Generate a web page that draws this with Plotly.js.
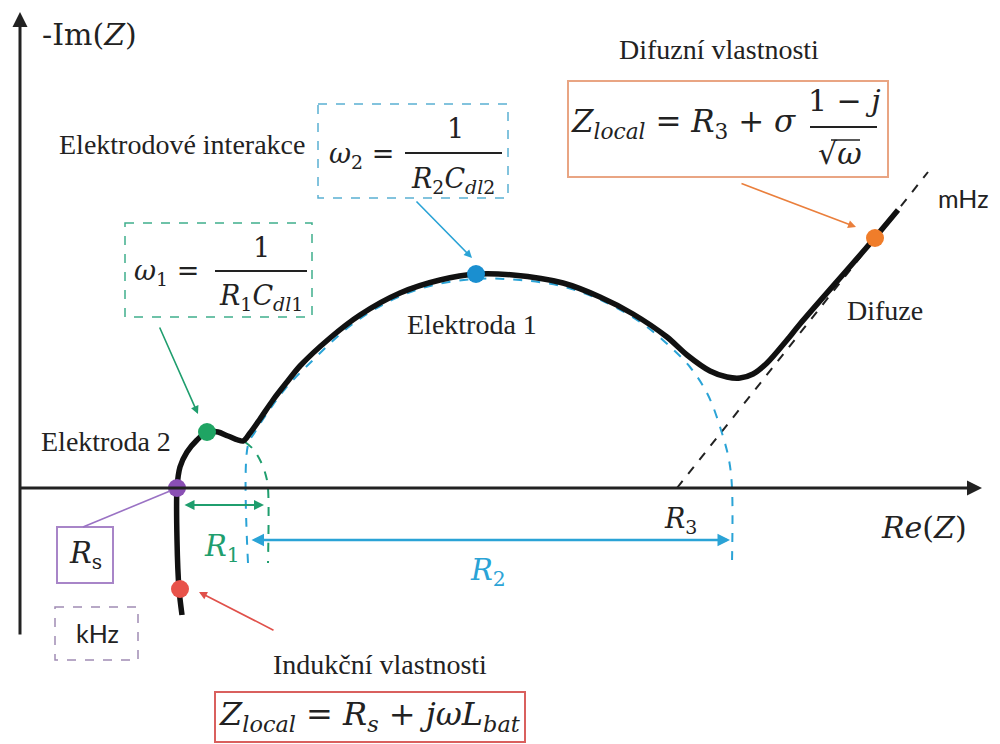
<!DOCTYPE html>
<html>
<head>
<meta charset="utf-8">
<script src="https://cdn.plot.ly/plotly-3.0.1.min.js"></script>
<style>
  html, body { margin: 0; padding: 0; background: #ffffff; }
  #chart { width: 1000px; height: 744px; }
</style>
</head>
<body>
<div id="chart"></div>
<script>
// Schematic Nyquist plot of a battery cell: Re(Z) against -Im(Z), arbitrary units.

// Impedance curve (inductive tail -> two arcs -> diffusion line)
const reZ    = [162, 159, 157, 157, 160, 167, 177, 187, 198, 208, 223, 230, 240, 253, 267, 280, 310, 340, 380, 420, 457, 493, 543, 580, 613, 647, 667, 690, 707, 720, 733, 747, 767, 780, 847, 878];
const negImZ = [-127, -101, -52, 0, 21, 36, 48, 56, 56, 52, 47, 55, 69, 88, 106, 122, 150, 173, 195, 208, 214, 213, 205, 191, 174, 151, 133, 117, 111, 110, 114, 125, 148, 164, 241, 278];

// Resistances read on the real axis
const Rs = 157;
const R1end = 248;
const R2start = 228;
const R2end = 712;
const R3 = 657;

// Fitted arc of electrode 1 (R2) and its right boundary
const r2ArcRe = [228, 228, 235, 248, 265, 290, 330, 370, 410, 456, 500, 545, 585, 620, 645, 670, 688, 701, 709, 712, 712];
const r2ArcIm = [-75, 43, 56, 76, 99, 125, 162, 187, 202, 209, 208, 201, 186, 166, 146, 121, 93, 58, 28, 0, -75];

// Small arc of electrode 2 (R1) and its right boundary
const r1ArcRe = [225, 233, 241, 246, 248, 248];
const r1ArcIm = [46, 39, 26, 12, 0, -75];

// Warburg asymptote starting at R3
const warburgRe = [R3, 908];
const warburgIm = [0, 316];

// Characteristic frequency points
const markRe = [160, Rs, 187, 456, 855];
const markIm = [-101, 0, 56, 214, 250];
const markColors = ['#e8524a', '#8a4fb4', '#1fa463', '#1a8fd0', '#f07d2a'];

const W = 1000, H = 744;
const INK = '#222222';
const GREEN = '#1f9e6e';
const BLUE = '#2aa3d6';
const ORANGE = '#ea7f3c';
const RED = '#e0504a';
const SERIF = 'Liberation Serif';
const MATH = 'DejaVu Serif';

// paper position from page pixels
function page(px, py) {
  return { xref: 'paper', yref: 'paper', x: px / W, y: 1 - py / H };
}

function label(text, px, py, size, color, family, extra) {
  return Object.assign(page(px, py), {
    text: text, showarrow: false, xanchor: 'center', yanchor: 'middle',
    font: { size: size, color: color || INK, family: family || SERIF }
  }, extra || {});
}

function pointer(hx, hy, tx, ty, color, width) {
  return Object.assign(page(hx, hy), {
    text: '', showarrow: true, ax: tx - hx, ay: ty - hy,
    arrowhead: 2, arrowsize: 1, arrowwidth: width || 1.6, arrowcolor: color, standoff: 0
  });
}

function rect(x0, y0, x1, y1, color, dash, width) {
  return {
    type: 'rect', xref: 'paper', yref: 'paper',
    x0: x0 / W, x1: x1 / W, y0: 1 - y0 / H, y1: 1 - y1 / H,
    line: { color: color, width: width || 1.6, dash: dash || 'solid' },
    fillcolor: 'rgba(255,255,255,0)', layer: 'below'
  };
}

function bar(x0, x1, y, color, width) {
  return {
    type: 'line', xref: 'paper', yref: 'paper',
    x0: x0 / W, x1: x1 / W, y0: 1 - y / H, y1: 1 - y / H,
    line: { color: color || INK, width: width || 2 }
  };
}

function segment(x0, y0, x1, y1, color, width) {
  return {
    type: 'line', xref: 'paper', yref: 'paper',
    x0: x0 / W, x1: x1 / W, y0: 1 - y0 / H, y1: 1 - y1 / H,
    line: { color: color, width: width || 1.6 }
  };
}

const traces = [
  { x: warburgRe, y: warburgIm, mode: 'lines', line: { color: INK, width: 2, dash: 'dash' }, hoverinfo: 'skip' },
  { x: r2ArcRe, y: r2ArcIm, mode: 'lines', line: { color: BLUE, width: 2, dash: 'dash', shape: 'spline' }, hoverinfo: 'skip' },
  { x: r1ArcRe, y: r1ArcIm, mode: 'lines', line: { color: GREEN, width: 2, dash: 'dash', shape: 'spline' }, hoverinfo: 'skip' },
  { x: reZ, y: negImZ, mode: 'lines', line: { color: '#111111', width: 5.5, shape: 'spline', smoothing: 0.8 }, hoverinfo: 'skip' },
  { x: markRe, y: markIm, mode: 'markers', marker: { size: 18, color: markColors }, hoverinfo: 'skip' }
];

const annotations = [
  // axes with arrowheads
  pointer(982, 488, 18, 488, INK, 3),
  pointer(20, 12, 20, 636, INK, 3),
  label('-Im(<i>Z</i>)', 89, 35, 30, INK, MATH),
  label('<i>Re</i>(<i>Z</i>)', 924, 527, 30, INK, MATH),

  // region captions
  label('Elektrodové interakce', 182, 144, 28, INK, SERIF),
  label('Elektroda 2', 106, 441, 28, INK, SERIF),
  label('Elektroda 1', 472, 325, 28, INK, SERIF),
  label('Difuzní vlastnosti', 719, 50, 28, INK, SERIF),
  label('Difuze', 885, 310, 28, INK, SERIF),
  label('Indukční vlastnosti', 380, 664, 28, INK, SERIF),
  label('mHz', 963, 198, 25, INK, 'Lato'),
  label('kHz', 97, 633, 25, INK, 'Lato'),

  // resistance labels
  label('<i>R</i><sub>s</sub>', 85, 555, 29, INK, MATH),
  label('<i>R</i><sub>1</sub>', 222, 548, 29, GREEN, MATH),
  label('<i>R</i><sub>2</sub>', 488, 572, 29, BLUE, MATH),
  label('<i>R</i><sub>3</sub>', 680, 520, 27, INK, MATH),

  // ω1 = 1 / (R1 Cdl1)
  label('<i>ω</i><sub>1</sub> =', 166, 272, 27, INK, MATH),
  label('1', 261, 248, 27, INK, MATH),
  label('<i>R</i><sub>1</sub><i>C</i><sub><i>dl</i>1</sub>', 261, 297, 27, INK, MATH),

  // ω2 = 1 / (R2 Cdl2)
  label('<i>ω</i><sub>2</sub> =', 361, 155, 27, INK, MATH),
  label('1', 455, 129, 27, INK, MATH),
  label('<i>R</i><sub>2</sub><i>C</i><sub><i>dl</i>2</sub>', 453, 180, 27, INK, MATH),

  // Z_local = R3 + σ (1 - j)/√ω
  label('<i>Z</i><sub><i>local</i></sub> = <i>R</i><sub>3</sub> + <i>σ</i>', 683, 124, 31, INK, MATH),
  label('1 − <i>j</i>', 844, 100, 30, INK, MATH),
  label('√<i>ω</i>', 840, 153, 30, INK, MATH),

  // Z_local = Rs + jωL_bat
  label('<i>Z</i><sub><i>local</i></sub> = <i>R</i><sub><i>s</i></sub> + <i>jωL</i><sub><i>bat</i></sub>', 370, 716, 32, INK, MATH),

  // callout arrows
  pointer(198, 414, 159, 326, GREEN, 1.6),
  pointer(472, 258, 415, 200, BLUE, 1.6),
  pointer(856, 227, 740, 183, ORANGE, 1.6),
  pointer(199, 592, 275, 631, RED, 1.6),

  // R1 and R2 spans on the real axis
  {
    x: R1end - 4, y: -17, ax: Rs + 6, ay: -17, xref: 'x', yref: 'y', axref: 'x', ayref: 'y',
    text: '', showarrow: true, arrowside: 'end+start', arrowhead: 2, arrowsize: 1,
    arrowwidth: 2, arrowcolor: GREEN, standoff: 0, startstandoff: 0
  },
  {
    x: R2end - 2, y: -52, ax: R2start + 2, ay: -52, xref: 'x', yref: 'y', axref: 'x', ayref: 'y',
    text: '', showarrow: true, arrowside: 'end+start', arrowhead: 2, arrowsize: 1,
    arrowwidth: 2.5, arrowcolor: BLUE, standoff: 0, startstandoff: 0
  }
];

const shapes = [
  rect(125, 223, 312, 317, '#3fae8c', 'dash', 1.5),
  rect(318, 104, 508, 198, '#5ab0d2', 'dash', 1.5),
  rect(568, 81, 888, 177, '#e9a583', 'solid', 2),
  rect(215, 692, 525, 742, '#d9605e', 'solid', 2),
  rect(57, 527, 113, 583, '#a885c8', 'solid', 2),
  rect(55, 607, 138, 660, '#a08cb4', 'dash', 1.5),
  bar(215, 307, 271),
  bar(405, 502, 153),
  bar(810, 877, 127),
  segment(831, 140, 860, 140, INK, 1.5),
  segment(170, 491, 83, 527, '#9a72c4', 1.6)
];

const layout = {
  width: W, height: H,
  margin: { l: 0, r: 0, t: 0, b: 0 },
  paper_bgcolor: '#ffffff', plot_bgcolor: '#ffffff',
  showlegend: false,
  xaxis: { range: [-20, 980], visible: false, fixedrange: true },
  yaxis: { range: [-256, 488], visible: false, fixedrange: true },
  annotations: annotations,
  shapes: shapes
};

Plotly.newPlot('chart', traces, layout, { displayModeBar: false, staticPlot: true });
</script>
</body>
</html>
